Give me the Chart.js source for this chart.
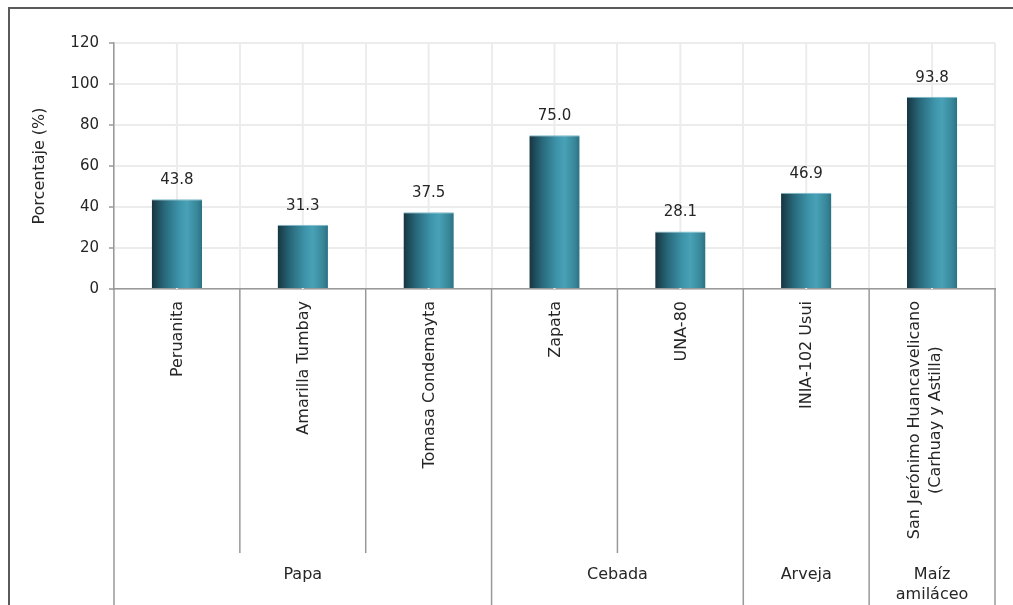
<!DOCTYPE html>
<html>
<head>
<meta charset="utf-8">
<title>Porcentaje por variedad</title>
<script src="https://cdn.jsdelivr.net/npm/chart.js@4.4.1/dist/chart.umd.min.js"></script>
<style>
  body { margin: 0; background: #fff; }
  canvas { display: block; }
</style>
</head>
<body>
<canvas id="grafico" width="1013" height="605"></canvas>
<script>
// variedades (eje x), en una o dos lineas
const variedades = [
  ['Peruanita'],
  ['Amarilla Tumbay'],
  ['Tomasa Condemayta'],
  ['Zapata'],
  ['UNA-80'],
  ['INIA-102 Usui'],
  ['San Jerónimo Huancavelicano', '(Carhuay y Astilla)']
];
const porcentajes = [43.8, 31.3, 37.5, 75.0, 28.1, 46.9, 93.8];

// cultivos y cuantas variedades tiene cada uno
const cultivos = [['Papa'], ['Cebada'], ['Arveja'], ['Maíz', 'amiláceo']];
const variedadesPorCultivo = [3, 2, 1, 1];

// eje y
const yMin = 0;
const yMax = 120;
const yPaso = 20;

const fuente = 'DejaVu Sans';
const colorTexto = '#262626';
const colorRejilla = '#ececec';
const colorLinea = '#999999';

// degradado horizontal tipo cilindro para cada barra
function degradadoBarra(context) {
  const chart = context.chart;
  const x = chart.scales.x;
  if (!x || !chart.chartArea) return '#2f8096';
  const centro = x.getPixelForValue(context.dataIndex);
  const ancho = x.width / porcentajes.length * 0.4;
  const g = chart.ctx.createLinearGradient(centro - ancho / 2, 0, centro + ancho / 2, 0);
  g.addColorStop(0, '#163540');
  g.addColorStop(0.25, '#28687a');
  g.addColorStop(0.55, '#3e95ab');
  g.addColorStop(0.7, '#48a1b6');
  g.addColorStop(0.9, '#388799');
  g.addColorStop(1, '#2b7083');
  return g;
}

const etiquetasEje = {
  id: 'etiquetasEje',
  beforeDraw(chart) {
    const ctx = chart.ctx;
    ctx.save();
    ctx.fillStyle = '#fff';
    ctx.fillRect(0, 0, chart.width, chart.height);
    // marco exterior
    ctx.strokeStyle = '#5a5a5a';
    ctx.lineWidth = 2;
    ctx.beginPath();
    ctx.moveTo(9, chart.height);
    ctx.lineTo(9, 8);
    ctx.lineTo(chart.width, 8);
    ctx.stroke();
    ctx.restore();
  },
  beforeDatasetsDraw(chart) {
    // lineas verticales en el centro de cada categoria
    const ctx = chart.ctx;
    const area = chart.chartArea;
    const x = chart.scales.x;
    ctx.save();
    ctx.strokeStyle = colorRejilla;
    ctx.lineWidth = 2;
    porcentajes.forEach((v, i) => {
      const px = x.getPixelForValue(i);
      ctx.beginPath();
      ctx.moveTo(px, area.top);
      ctx.lineTo(px, area.bottom);
      ctx.stroke();
    });
    ctx.restore();
  },
  afterDraw(chart) {
    const ctx = chart.ctx;
    const area = chart.chartArea;
    const x = chart.scales.x;
    const n = porcentajes.length;
    const anchoCat = (area.right - area.left) / n;

    // limites de cada cultivo
    const limites = [0];
    variedadesPorCultivo.forEach(c => limites.push(limites[limites.length - 1] + c));

    ctx.save();
    // separadores bajo el eje
    ctx.strokeStyle = colorLinea;
    ctx.lineWidth = 1.5;
    for (let i = 0; i <= n; i++) {
      const px = area.left + i * anchoCat;
      const fin = limites.includes(i) ? chart.height : 553;
      ctx.beginPath();
      ctx.moveTo(px, area.bottom);
      ctx.lineTo(px, fin);
      ctx.stroke();
    }

    // nombres de variedades, girados
    ctx.fillStyle = colorTexto;
    ctx.font = '16px "' + fuente + '"';
    ctx.textAlign = 'center';
    ctx.textBaseline = 'middle';
    variedades.forEach((lineas, i) => {
      const cx = x.getPixelForValue(i);
      const maxW = Math.max(...lineas.map(l => ctx.measureText(l).width));
      ctx.save();
      ctx.translate(cx, 301);
      ctx.rotate(-Math.PI / 2);
      lineas.forEach((l, k) => {
        const desp = (k - (lineas.length - 1) / 2) * 21 - (lineas.length - 1) * 8 + 1;
        ctx.fillText(l, -maxW / 2, desp);
      });
      ctx.restore();
    });

    // nombres de cultivos
    cultivos.forEach((lineas, g) => {
      const cx = area.left + (limites[g] + limites[g + 1]) / 2 * anchoCat;
      lineas.forEach((l, k) => ctx.fillText(l, cx, 575 + k * 20));
    });

    // valores sobre las barras
    ctx.font = '15px "' + fuente + '"';
    chart.getDatasetMeta(0).data.forEach((barra, i) => {
      ctx.fillText(porcentajes[i].toFixed(1), barra.x, barra.y - 19);
    });
    ctx.restore();
  }
};

new Chart(document.getElementById('grafico'), {
  type: 'bar',
  data: {
    labels: variedades.map(v => v.join(' ')),
    datasets: [{
      data: porcentajes,
      backgroundColor: degradadoBarra,
      borderColor: '#7dbacb',
      borderWidth: { top: 1, left: 0, right: 0, bottom: 0 },
      borderSkipped: false,
      barPercentage: 0.4,
      categoryPercentage: 1
    }]
  },
  options: {
    responsive: false,
    animation: false,
    layout: { padding: { left: 9, top: 43, right: 18, bottom: 0 } },
    plugins: {
      legend: { display: false },
      tooltip: { enabled: false }
    },
    scales: {
      x: {
        offset: true,
        ticks: { display: false },
        grid: { color: colorRejilla, lineWidth: 2, drawTicks: false, offset: true },
        border: { color: colorLinea, width: 1.5 },
        afterFit(scale) { scale.height = 316; }
      },
      y: {
        min: yMin,
        max: yMax,
        ticks: {
          stepSize: yPaso,
          padding: 10,
          color: colorTexto,
          font: { family: fuente, size: 15 }
        },
        grid: { color: colorRejilla, lineWidth: 2, tickLength: 5, tickColor: colorLinea, tickWidth: 1.5 },
        border: { color: colorLinea, width: 1.5 },
        title: {
          display: true,
          text: 'Porcentaje (%)',
          color: colorTexto,
          font: { family: fuente, size: 16 },
          padding: { top: 21, bottom: 0 }
        },
        afterFit(scale) { scale.width = 105; }
      }
    }
  },
  plugins: [etiquetasEje]
});
</script>
</body>
</html>
